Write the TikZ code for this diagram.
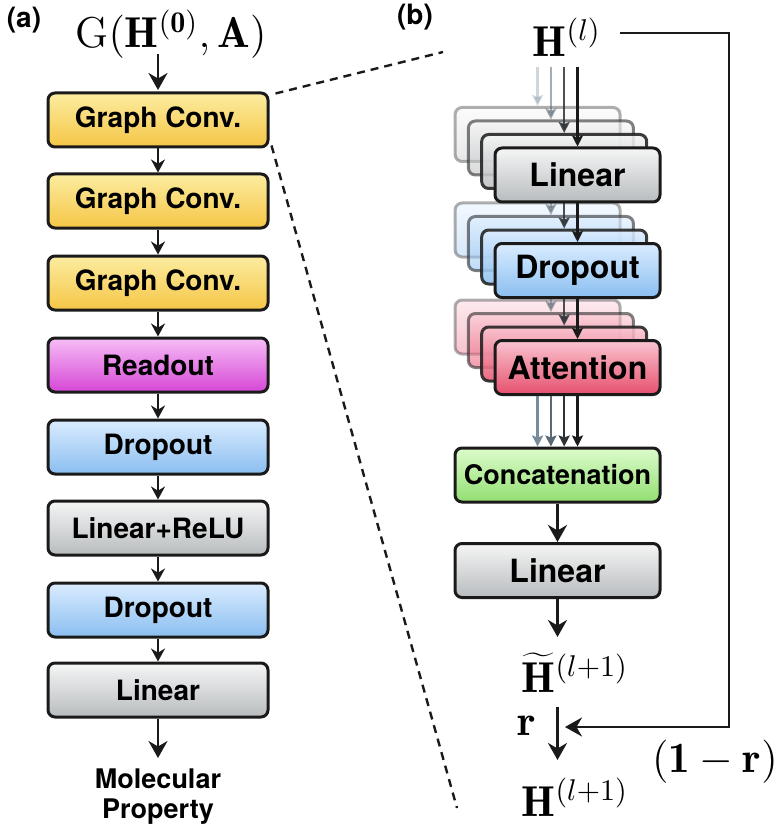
\documentclass[tikz,border=0pt]{standalone}
\usepackage{fontspec}
\newfontfamily\hv{TeX Gyre Heros}
\usetikzlibrary{arrows.meta}
\definecolor{edge}{HTML}{1A1A1A}
\tikzset{
  blk/.style={draw=edge, line width=3pt, rounded corners=7pt, inner sep=0pt,
    minimum width=220pt, minimum height=54pt, font=\hv\bfseries\fontsize{28}{30}\selectfont},
  rblk/.style={minimum width=165pt, minimum height=54pt, font=\hv\bfseries\fontsize{32}{34}\selectfont},
  cblk/.style={minimum width=205pt, minimum height=54pt, font=\hv\bfseries\fontsize{27}{30}\selectfont},
  yel/.style={top color={rgb,255:red,252;green,236;blue,160}, bottom color={rgb,255:red,245;green,198;blue,70}},
  mag/.style={top color={rgb,255:red,246;green,190;blue,246}, bottom color={rgb,255:red,214;green,70;blue,214}},
  blu/.style={top color={rgb,255:red,218;green,236;blue,255}, bottom color={rgb,255:red,138;green,190;blue,240}},
  gry/.style={top color={rgb,255:red,245;green,245;blue,245}, bottom color={rgb,255:red,184;green,188;blue,190}},
  pnk/.style={top color={rgb,255:red,250;green,196;blue,208}, bottom color={rgb,255:red,230;green,80;blue,110}},
  grn/.style={top color={rgb,255:red,220;green,252;blue,204}, bottom color={rgb,255:red,146;green,222;blue,112}},
  arr/.style={-{Stealth[length=13pt,width=14pt]}, line width=2.8pt, draw=edge},
  bigarr/.style={-{Stealth[length=17pt,width=19pt]}, line width=2.8pt, draw=edge},
  thinarr/.style={-{Stealth[length=11pt,width=11pt,inset=2pt]}, line width=2.4pt},
  mth/.style={inner sep=0pt, font=\Large, scale=3.0},
  lbl/.style={inner sep=0pt, font=\hv\bfseries\fontsize{28}{30}\selectfont},
  dsh/.style={dash pattern=on 8pt off 6pt, line width=2.4pt, draw=edge},
}
\begin{document}
\begin{tikzpicture}[x=1pt,y=-1pt]
\useasboundingbox (0,0) rectangle (781,834);
% ---------- (a) ----------
\node[lbl] (la) at (24,20) {(a)};
\node[mth] (g) at (171,34) {$\mathrm{G}(\mathbf{H}^{(\mathbf{0})},\mathbf{A})$};
\node[blk,yel] (a1) at (158,120) {Graph Conv.};
\node[blk,yel] (a2) at (158,201) {Graph Conv.};
\node[blk,yel] (a3) at (158,283) {Graph Conv.};
\node[blk,mag] (a4) at (158,365) {Readout};
\node[blk,blu] (a5) at (158,447) {Dropout};
\node[blk,gry] (a6) at (158,528) {Linear+ReLU};
\node[blk,blu] (a7) at (158,610) {Dropout};
\node[blk,gry] (a8) at (158,690) {Linear};
\node[align=center, inner sep=0pt, font=\hv\bfseries\fontsize{27}{30}\selectfont] (mp) at (158,797) {Molecular\\Property};
\coordinate (gout) at (158,54);
\coordinate (gin) at (158,90);
\draw[bigarr] (gout) -- (gin);
\foreach \i [evaluate=\i as \j using int(\i+1)] in {1,...,7}
  \draw[arr] (a\i.south) -- (a\j.north);
\coordinate (mpin) at (158,758);
\draw[bigarr] (a8.south) -- (mpin);
% dashed zoom lines
\coordinate (d1) at (443,52);
\coordinate (d2) at (457,808);
\draw[dsh] ([xshift=6pt,yshift=-2pt]a1.north east) -- (d1);
\draw[dsh] ([xshift=2pt,yshift=3pt]a1.south east) -- (d2);
% ---------- (b) ----------
\node[lbl] (lb) at (415,17) {(b)};
\node[mth] (hl) at (567,37) {$\mathbf{H}^{(l)}$};
\foreach \k/\op/\ac in {0/0.35/{rgb,255:red,120;green,140;blue,155},
                        1/0.55/{rgb,255:red,90;green,105;blue,118},
                        2/0.85/{rgb,255:red,45;green,50;blue,55},
                        3/1.00/edge}{
  \pgfmathsetmacro{\dx}{(\k-3)*13.3}
  \pgfmathsetmacro{\dy}{(\k-3)*13.5}
  \begin{scope}[opacity=\op]
  \node[blk,rblk,gry] (lin\k) at (577.5+\dx,175+\dy) {\ifnum\k=3 Linear\fi};
  \node[blk,rblk,blu] (drp\k) at (577.5+\dx,270.5+\dy) {\ifnum\k=3 Dropout\fi};
  \node[blk,rblk,pnk] (att\k) at (577.5+\dx,367.5+\dy) {\ifnum\k=3 Attention\fi};
  \draw[thinarr,draw=\ac,color=\ac] (lin\k.north |- 0,67) -- (lin\k.north);
  \draw[thinarr,draw=\ac,color=\ac] (lin\k.south) -- (drp\k.north);
  \draw[thinarr,draw=\ac,color=\ac] (drp\k.south) -- (att\k.north);
  \end{scope}
}
\node[blk,cblk,grn] (cat) at (557.5,475) {Concatenation};
\foreach \k/\ac in {0/{rgb,255:red,120;green,140;blue,155},
                    1/{rgb,255:red,90;green,105;blue,118},
                    2/{rgb,255:red,45;green,50;blue,55},
                    3/edge}
  \draw[thinarr,draw=\ac,color=\ac] (att\k.south |- att3.south) -- (att\k.south |- cat.north);
\node[blk,cblk,gry,font=\hv\bfseries\fontsize{32}{34}\selectfont] (lo) at (557.5,570.5) {Linear};
\draw[bigarr] (cat.south) -- (lo.north);
\node[mth] (ht) at (575,673) {$\widetilde{\mathbf{H}}^{(l+1)}$};
\coordinate (htin) at (557.5,637);
\draw[bigarr] (lo.south) -- (htin);
\node[mth] (r) at (527,726) {$\mathbf{r}$};
\node[mth] (hn) at (575,797) {$\mathbf{H}^{(l+1)}$};
\coordinate (ra) at (557.5,707);
\coordinate (rb) at (557.5,760);
\draw[bigarr] (ra) -- (rb);
\node[mth] (omr) at (715,762) {$(\mathbf{1}-\mathbf{r})$};
\coordinate (c0) at (620,33);
\coordinate (c1) at (729,33);
\coordinate (c2) at (729,727);
\coordinate (c3) at (565,727);
\draw[bigarr] (c0) -- (c1) -- (c2) -- (c3);
\end{tikzpicture}
\end{document}
